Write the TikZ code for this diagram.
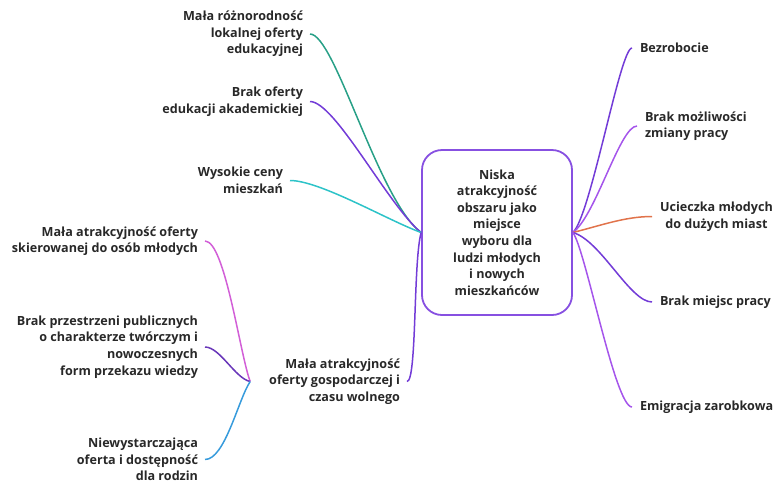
\documentclass[tikz,border=0pt]{standalone}
\usepackage{fontspec}
\setmainfont{Open Sans}
\usepackage{xcolor}
\usepackage{tikz}

\definecolor{cCore}{RGB}{135,80,225}
\definecolor{cTeal}{RGB}{40,160,135}
\definecolor{cPurple}{RGB}{115,60,215}
\definecolor{cCyan}{RGB}{45,195,200}
\definecolor{cViolet}{RGB}{165,85,235}
\definecolor{cOrange}{RGB}{225,115,75}
\definecolor{cPink}{RGB}{210,95,215}
\definecolor{cDeep}{RGB}{105,55,185}
\definecolor{cBlue}{RGB}{55,155,220}
\definecolor{cText}{RGB}{40,40,40}

\begin{document}
\begin{tikzpicture}[
  x=1pt,y=-1pt,
  every node/.style={font=\fontsize{12.6}{16.6}\selectfont\bfseries,text=cText},
  core/.style={draw=cCore,line width=1.8pt,rounded corners=20pt,minimum width=150pt,minimum height=165pt,align=center,inner sep=0pt},
  leafl/.style={align=right,inner sep=0pt,outer sep=7pt,anchor=east},
  leafr/.style={align=left,inner sep=0pt,outer sep=8pt,anchor=west},
  link/.style={line width=1.5pt}
]
\useasboundingbox (0,0) rectangle (777,483);

\node[core] (core) at (497,232.5) {Niska\\atrakcyjność\\obszaru jako\\miejsce\\wyboru dla\\ludzi młodych\\i nowych\\mieszkańców};

% left side
\node[leafl] (edu) at (310,34) {Mała różnorodność\\lokalnej oferty\\edukacyjnej};
\node[leafl] (akad) at (310,101.5) {Brak oferty\\edukacji akademickiej};
\node[leafl] (ceny) at (290,180.5) {Wysokie ceny\\mieszkań};
\node[leafl] (gosp) at (407,381.5) {Mała atrakcyjność\\oferty gospodarczej i\\czasu wolnego};
\coordinate (gospfork) at ([xshift=-12pt]gosp.west);
\node[leafl] (mlodzi) at (205,241) {Mała atrakcyjność oferty\\skierowanej do osób młodych};
\node[leafl] (przestrz) at (205,347) {Brak przestrzeni publicznych\\o charakterze twórczym i\\nowoczesnych\\form przekazu wiedzy};
\node[leafl] (rodzin) at (205,459.5) {Niewystarczająca\\oferta i dostępność\\dla rodzin};

% right side
\node[leafr] (bezr) at (632,48) {Bezrobocie};
\node[leafr] (mozl) at (637,126) {Brak możliwości\\zmiany pracy};
\node[leafr,align=center] (uciecz) at (652,216.5) {Ucieczka młodych\\do dużych miast};
\node[leafr] (miejsc) at (652,302) {Brak miejsc pracy};
\node[leafr] (emigr) at (632,407) {Emigracja zarobkowa};

\draw[link,cTeal] (core.west) .. controls +(-43,-32) and +(25,0) .. (edu.east);
\draw[link,cPurple] (core.west) .. controls +(-33,-27) and +(25,0) .. (akad.east);
\draw[link,cCyan] (core.west) .. controls +(-33,-12) and +(30,0) .. (ceny.east);
\draw[link,cPurple] (core.west) .. controls +(-8,30) and +(10,0) .. (gosp.east);
\draw[link,cPink] (gospfork) .. controls +(-10,-26) and +(20,0) .. (mlodzi.east);
\draw[link,cDeep] (gospfork) .. controls +(-15,-3) and +(15,0) .. (przestrz.east);
\draw[link,cBlue] (gospfork) .. controls +(-12,18) and +(20,0) .. (rodzin.east);

\draw[link,cPurple] (core.east) .. controls +(18,-17) and +(-12,0) .. (bezr.west);
\draw[link,cViolet] (core.east) .. controls +(23,-17) and +(-17,0) .. (mozl.west);
\draw[link,cOrange] (core.east) .. controls +(28,-7) and +(-27,0) .. (uciecz.west);
\draw[link,cPurple] (core.east) .. controls +(28,8) and +(-22,0) .. (miejsc.west);
\draw[link,cViolet] (core.east) .. controls +(13,18) and +(-17,0) .. (emigr.west);
\end{tikzpicture}
\end{document}
